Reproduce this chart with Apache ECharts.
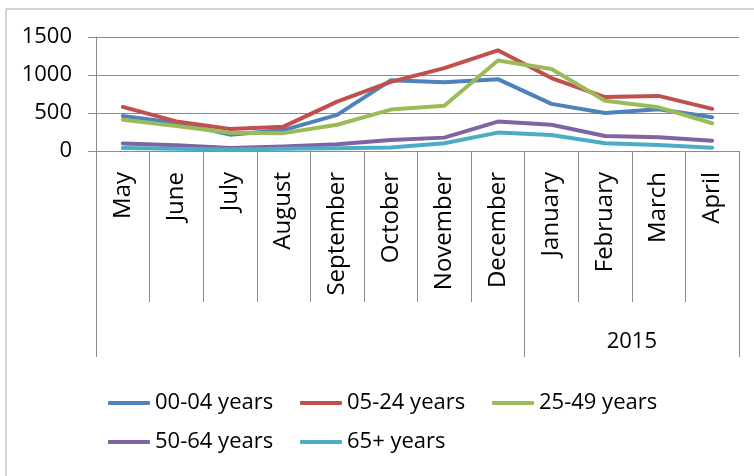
<!DOCTYPE html>
<html>
<head>
<meta charset="utf-8">
<script src="https://cdn.jsdelivr.net/npm/echarts@6/dist/echarts.min.js"></script>
<style>
  html, body { margin: 0; padding: 0; background: #ffffff; }
  #chart { width: 754px; height: 476px; }
</style>
</head>
<body>
<div id="chart"></div>
<script>
// Monthly counts by age group, May to April
const months = ['May', 'June', 'July', 'August', 'September', 'October',
  'November', 'December', 'January', 'February', 'March', 'April'];

// Year groups under the month axis: label and how many months each spans
const yearLabels = ['', '2015'];
const yearSpans = [8, 4];

const seriesNames = ['00-04 years', '05-24 years', '25-49 years', '50-64 years', '65+ years'];
const age00to04 = [460, 370, 215, 275, 475, 930, 905, 945, 620, 500, 550, 445];
const age05to24 = [580, 390, 290, 320, 650, 910, 1090, 1325, 960, 710, 725, 555];
const age25to49 = [410, 330, 240, 235, 345, 545, 595, 1190, 1080, 660, 575, 365];
const age50to64 = [100, 75, 40, 60, 90, 145, 176, 387, 345, 198, 180, 136];
const age65plus = [40, 30, 20, 30, 35, 45, 101, 242, 211, 101, 79, 44];

const yTicks = [0, 500, 1000, 1500];

const colors = ['#4F81BD', '#C0504D', '#9BBB59', '#8064A2', '#4BACC6'];
const axisGray = '#8c8c8c';
const font = '"Open Sans", "Noto Sans", sans-serif';

// Boundaries of the year groups (in month units) and centres of their labels
const yearBounds = [0];
yearSpans.forEach(s => yearBounds.push(yearBounds[yearBounds.length - 1] + s));
const yearCentres = {};
yearSpans.forEach((s, i) => {
  if (yearLabels[i]) yearCentres[(yearBounds[i] + yearBounds[i + 1]) / 2] = yearLabels[i];
});

const chart = echarts.init(document.getElementById('chart'), null, { renderer: 'canvas' });

const seriesData = [age00to04, age05to24, age25to49, age50to64, age65plus];

chart.setOption({
  backgroundColor: '#ffffff',
  animation: false,
  color: colors,
  graphic: [{
    type: 'rect',
    shape: { x: 6, y: 9, width: 800, height: 500 },
    style: { fill: 'none', stroke: '#a6a6a6', lineWidth: 1 },
    silent: true
  }],
  grid: { left: 96, right: 15, top: 37, bottom: 325, containLabel: false },
  legend: {
    data: seriesNames,
    left: 103,
    top: 381,
    width: 580,
    itemWidth: 42,
    itemHeight: 4,
    itemGap: 5,
    icon: 'roundRect',
    textStyle: {
      fontFamily: font,
      fontSize: 22,
      color: '#000000',
      width: 140,
      lineHeight: 34
    }
  },
  xAxis: [{
    type: 'category',
    data: months,
    boundaryGap: true,
    position: 'bottom',
    axisLine: { show: true, lineStyle: { color: axisGray, width: 1 } },
    axisTick: { show: true, interval: 0, length: 151, lineStyle: { color: axisGray, width: 1 } },
    axisLabel: {
      interval: 0,
      rotate: 90,
      margin: 21,
      fontFamily: font,
      fontSize: 24,
      color: '#000000'
    },
    splitLine: { show: false }
  }, {
    type: 'value',
    min: 0,
    max: months.length,
    position: 'bottom',
    axisLine: { show: false },
    splitLine: { show: false },
    axisTick: {
      show: true,
      customValues: yearBounds,
      length: 206,
      lineStyle: { color: axisGray, width: 1 }
    },
    axisLabel: {
      show: true,
      customValues: Object.keys(yearCentres).map(Number),
      formatter: v => yearCentres[v] || '',
      margin: 180,
      fontFamily: font,
      fontSize: 22,
      color: '#000000'
    }
  }],
  yAxis: {
    type: 'value',
    min: yTicks[0],
    max: yTicks[yTicks.length - 1],
    interval: yTicks[1] - yTicks[0],
    axisLine: { show: true, lineStyle: { color: axisGray, width: 1 } },
    axisTick: { show: true, length: 8, lineStyle: { color: axisGray, width: 1 } },
    axisLabel: {
      margin: 24,
      formatter: v => String(v),
      fontFamily: font,
      fontSize: 22,
      color: '#000000'
    },
    splitLine: { show: true, lineStyle: { color: axisGray, width: 1 } }
  },
  series: seriesNames.map((name, i) => ({
    name: name,
    type: 'line',
    xAxisIndex: 0,
    data: seriesData[i],
    symbol: 'none',
    lineStyle: { width: 4, color: colors[i], cap: 'round', join: 'round' },
    itemStyle: { color: colors[i] }
  }))
});
</script>
</body>
</html>
